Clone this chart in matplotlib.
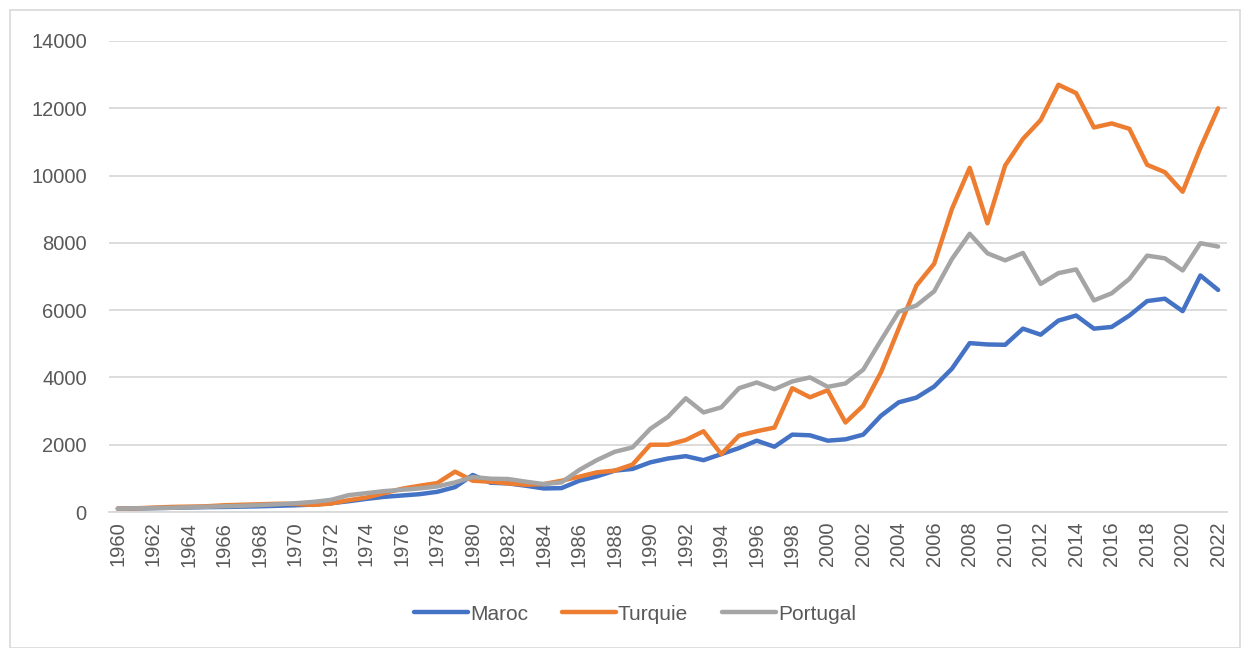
import matplotlib
matplotlib.use("Agg")
import matplotlib.pyplot as plt
from matplotlib.patches import Rectangle
import numpy as np

years = np.arange(1960, 2023)

maroc = [100, 105, 115, 125, 135, 145, 150, 160, 170, 185,
         200, 220, 260, 320, 390, 450, 490, 530, 600, 740,
         1100, 870, 850, 780, 700, 710, 930, 1060, 1230, 1280,
         1475, 1590, 1660, 1540, 1720, 1900, 2120, 1940, 2300, 2280,
         2120, 2160, 2300, 2860, 3260, 3400, 3730, 4260, 5020, 4980,
         4970, 5450, 5270, 5690, 5840, 5450, 5500, 5840, 6270, 6340,
         5970, 7030, 6600]

turquie = [100, 110, 130, 150, 160, 170, 200, 215, 230, 245,
           240, 210, 250, 350, 430, 560, 690, 780, 860, 1200,
           930, 900, 850, 810, 830, 930, 1050, 1180, 1230, 1410,
           2000, 2000, 2140, 2400, 1720, 2270, 2400, 2510, 3680, 3410,
           3620, 2660, 3160, 4150, 5450, 6730, 7380, 9010, 10230, 8580,
           10300, 11090, 11650, 12700, 12450, 11430, 11550, 11390, 10320, 10100,
           9520, 10820, 12000]

portugal = [100, 110, 115, 125, 140, 155, 170, 185, 205, 230,
            260, 300, 360, 500, 560, 620, 660, 700, 760, 880,
            1040, 990, 980, 900, 830, 880, 1250, 1545, 1790, 1920,
            2470, 2830, 3380, 2960, 3110, 3680, 3850, 3650, 3880, 4000,
            3720, 3820, 4230, 5100, 5950, 6140, 6560, 7520, 8270, 7690,
            7480, 7700, 6780, 7100, 7210, 6290, 6500, 6930, 7620, 7540,
            7180, 7990, 7890]

series = [("Maroc", maroc, "#4472C4"),
          ("Turquie", turquie, "#ED7D31"),
          ("Portugal", portugal, "#A5A5A5")]

plt.rcParams['font.family'] = ['Liberation Sans', 'DejaVu Sans']

fig = plt.figure(figsize=(12.45, 6.48), dpi=100)
ax = fig.add_axes([109 / 1245, 1 - 512 / 648, (1227 - 109) / 1245, (512 - 41) / 648])

for name, vals, col in series:
    ax.plot(years, vals, color=col, lw=3.2, label=name,
            solid_joinstyle='round', solid_capstyle='round', zorder=3)

ax.set_xlim(1959.5, 2022.5)
ax.set_ylim(0, 14000)
ax.set_yticks(np.arange(0, 14001, 2000))
ax.set_xticks(years[::2])
ax.set_xticklabels([str(y) for y in years[::2]], rotation=90)
ax.grid(axis='y', color='#D9D9D9', lw=1.3)
ax.set_axisbelow(True)
for s in ['top', 'right', 'left']:
    ax.spines[s].set_visible(False)
ax.spines['bottom'].set_color('#D9D9D9')
ax.spines['bottom'].set_linewidth(1.3)
ax.tick_params(axis='both', length=0, labelsize=14.5, colors='#595959')
ax.tick_params(axis='y', pad=16)
ax.tick_params(axis='x', pad=7)

leg = fig.legend(loc='center', bbox_to_anchor=(0.51, 1 - 614 / 648), ncol=3,
                 frameon=False, fontsize=15, handlelength=2.6,
                 columnspacing=1.6, handletextpad=0.1)
for t in leg.get_texts():
    t.set_color('#595959')

fig.patches.append(Rectangle((10 / 1245, 0.0), 1230 / 1245, 1 - 10 / 648,
                             transform=fig.transFigure, fill=False,
                             edgecolor='#D9D9D9', lw=1.2))

fig.savefig("out.png", dpi=100)
